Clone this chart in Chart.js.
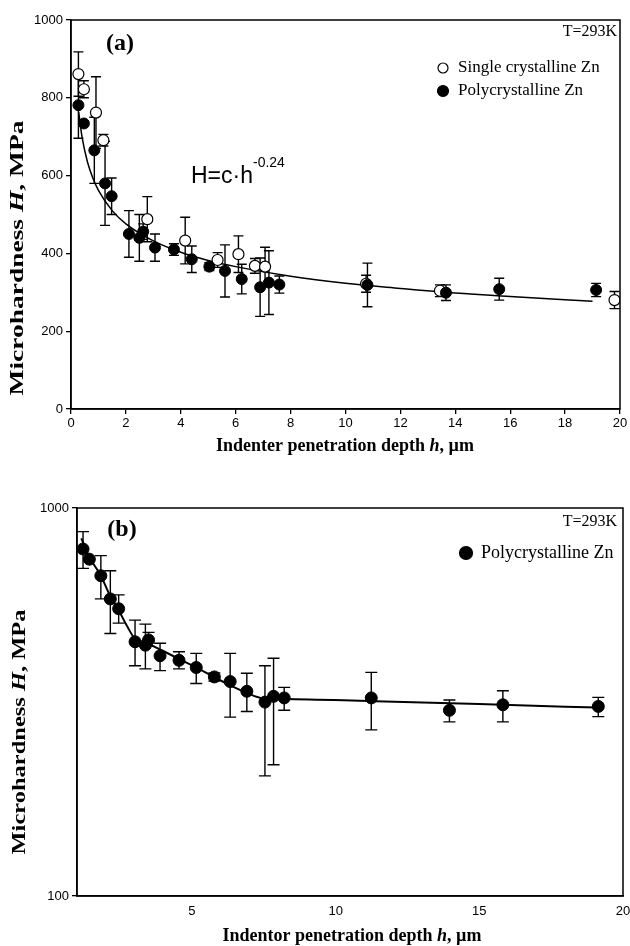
<!DOCTYPE html>
<html><head><meta charset="utf-8">
<script src="https://cdn.jsdelivr.net/npm/chart.js@4.4.1/dist/chart.umd.min.js"></script>
<style>
html,body{margin:0;padding:0;background:#fff;}
#wrap{position:relative;width:630px;height:946px;overflow:hidden;}
#ca{position:absolute;left:0;top:0;}
#cb{position:absolute;left:0;top:470px;}
</style></head><body>
<div id="wrap"><canvas id="ca" width="630" height="470"></canvas><canvas id="cb" width="630" height="476"></canvas></div>
<script>
// ---------- Panel (a) data ----------
const singleX   = [0.27, 0.47, 0.91, 1.18, 2.78, 4.16, 5.34, 6.10, 6.70, 7.07, 10.75, 13.44, 19.80];
const singleH   = [861, 822, 762, 691, 488, 433, 383, 398, 368, 366, 322, 304, 280];
const singleErr = [57, 22, 92, 15, 58, 60, 19, 47, 19, 50, 22, 15, 22];

const polyX   = [0.27, 0.47, 0.85, 1.24, 1.48, 2.11, 2.49, 2.63, 3.06, 3.75, 4.40, 5.04, 5.61, 6.22, 6.89, 7.21, 7.59, 10.80, 13.66, 15.60, 19.13];
const polyH   = [781, 734, 665, 580, 547, 450, 440, 456, 415, 410, 385, 366, 355, 334, 313, 325, 320, 319, 299, 308, 306];
const polyErr = [85, 0, 85, 108, 47, 60, 60, 20, 35, 15, 34, 10, 67, 38, 75, 82, 22, 56, 20, 28, 17];

// fitted curve H = c*h^-0.24
const fitAX = [0.28, 0.4, 0.6, 0.8, 1, 1.5, 2, 3, 4, 5, 6, 8, 10, 12, 14, 16, 19];
const fitAH = [763, 700, 635, 593, 562, 510, 476, 432, 403, 382, 366, 341, 323, 310, 298, 289, 277];

const xTicksA = [0, 2, 4, 6, 8, 10, 12, 14, 16, 18, 20];
const yTicksA = [0, 200, 400, 600, 800, 1000];

// ---------- Panel (b) data ----------
const polyBX  = [1.21, 1.43, 1.83, 2.16, 2.45, 3.02, 3.38, 3.49, 3.89, 4.55, 5.15, 5.78, 6.33, 6.91, 7.54, 7.84, 8.21, 11.24, 13.96, 15.82, 19.14];
const polyBH  = [784, 738, 669, 583, 550, 452, 443, 457, 416, 405, 388, 367, 357, 337, 316, 327, 324, 324, 301, 311, 308];
const polyBLo = [699, 738, 583, 475, 505, 392, 385, 440, 381, 385, 353, 358, 289, 299, 204, 218, 301, 268, 281, 281, 290];
const polyBHi = [869, 738, 754, 689, 597, 514, 502, 478, 448, 426, 422, 376, 422, 375, 392, 410, 345, 377, 320, 338, 325];

const fitBX = [1.15, 1.43, 1.83, 2.16, 2.45, 2.75, 3.0, 3.5, 4.0, 4.5, 5.15, 5.8, 6.3, 6.9, 7.5, 8.2, 11.2, 14.0, 15.8, 19.1];
const fitBH = [835, 748, 669, 592, 545, 495, 462, 446, 428, 410, 388, 366, 350, 334, 323, 322, 318, 314, 311, 306];

const xTicksB = [5, 10, 15, 20];
const yTicksB = [100, 1000];

// ---------- helpers ----------
const SERIF = "'Liberation Serif', 'Times New Roman', serif";
const SANS  = "'Liberation Sans', Arial, sans-serif";
Chart.defaults.font.family = SANS;
Chart.defaults.color = '#000';

const pts = (xs, ys) => xs.map((x, i) => ({x: x, y: ys[i]}));

function drawRich(ctx, segs, cx, cy, rot, targetLen) {
  ctx.save();
  let w = 0;
  segs.forEach(s => { ctx.font = s.f; w += ctx.measureText(s.t).width; });
  ctx.translate(cx, cy);
  if (rot) ctx.rotate(rot);
  if (targetLen) ctx.scale(targetLen / w, 1);
  ctx.textBaseline = 'middle'; ctx.textAlign = 'left'; ctx.fillStyle = '#000';
  let x = -w / 2;
  segs.forEach(s => { ctx.font = s.f; ctx.fillText(s.t, x, 0); x += ctx.measureText(s.t).width; });
  ctx.restore();
}

function makeErrPlugin(sets, cap) {
  return {
    id: 'errbars',
    beforeDatasetsDraw(chart) {
      const ctx = chart.ctx, xs = chart.scales.x, ys = chart.scales.y;
      ctx.save();
      ctx.strokeStyle = '#000'; ctx.lineWidth = 1.4;
      sets.forEach(s => {
        s.x.forEach((xv, i) => {
          const lo = s.lo[i], hi = s.hi[i];
          if (lo === hi) return;
          const px = xs.getPixelForValue(xv);
          const pl = ys.getPixelForValue(lo), ph = ys.getPixelForValue(hi);
          ctx.beginPath();
          ctx.moveTo(px, pl); ctx.lineTo(px, ph);
          ctx.moveTo(px - cap, pl); ctx.lineTo(px + cap, pl);
          ctx.moveTo(px - cap, ph); ctx.lineTo(px + cap, ph);
          ctx.stroke();
        });
      });
      ctx.restore();
    }
  };
}

function framePlugin(drawExtra) {
  return {
    id: 'frame',
    afterDraw(chart) {
      const ctx = chart.ctx, a = chart.chartArea;
      ctx.save();
      ctx.strokeStyle = '#000'; ctx.lineWidth = 1.5;
      ctx.strokeRect(a.left, a.top, a.right - a.left, a.bottom - a.top);
      ctx.restore();
      drawExtra(ctx);
    }
  };
}

function circle(ctx, x, y, r, filled) {
  ctx.save();
  ctx.beginPath(); ctx.arc(x, y, r, 0, Math.PI * 2);
  ctx.fillStyle = filled ? '#000' : '#fff'; ctx.fill();
  ctx.strokeStyle = '#000'; ctx.lineWidth = 1.2; ctx.stroke();
  ctx.restore();
}

const tickFont = {family: SANS, size: 13};
function axisOpts(extra) {
  return Object.assign({
    type: 'linear',
    ticks: {color: '#000', font: tickFont, autoSkip: false, maxRotation: 0, padding: 2, callback: v => String(v)},
    grid: {drawOnChartArea: false, drawTicks: true, tickLength: 5, color: '#000', lineWidth: 1.3},
    border: {display: true, color: '#000', width: 1.5}
  }, extra);
}

// ---------- Chart (a) ----------
const errA = makeErrPlugin([
  {x: singleX, lo: singleH.map((v, i) => v - singleErr[i]), hi: singleH.map((v, i) => v + singleErr[i])},
  {x: polyX,   lo: polyH.map((v, i) => v - polyErr[i]),     hi: polyH.map((v, i) => v + polyErr[i])}
], 5);

const decoA = framePlugin(ctx => {
  const B = 'bold 18px ' + SERIF, BI = 'bold italic 18px ' + SERIF;
  const B2 = 'bold 19px ' + SERIF, BI2 = 'bold italic 19px ' + SERIF;
  drawRich(ctx, [{t: 'Indenter penetration depth ', f: B}, {t: 'h', f: BI}, {t: ', µm', f: B}], 345, 446, 0, null);
  drawRich(ctx, [{t: 'Microhardness ', f: B2}, {t: 'H', f: BI2}, {t: ', MPa', f: B2}], 18, 258, -Math.PI / 2, 275);
  drawRich(ctx, [{t: '(a)', f: 'bold 24px ' + SERIF}], 120, 44, 0, null);
  ctx.save();
  ctx.fillStyle = '#000'; ctx.textBaseline = 'middle';
  ctx.font = '16px ' + SERIF; ctx.textAlign = 'right';
  ctx.fillText('T=293K', 617, 32);
  ctx.textAlign = 'left'; ctx.font = '17px ' + SERIF;
  ctx.fillText('Single crystalline Zn', 458, 68);
  ctx.fillText('Polycrystalline Zn', 458, 91);
  ctx.textBaseline = 'alphabetic';
  ctx.font = '23px ' + SANS;
  ctx.fillText('H=c·h', 191, 183);
  ctx.font = '14px ' + SANS;
  ctx.fillText('-0.24', 253, 167);
  ctx.restore();
  circle(ctx, 443, 68, 5, false);
  circle(ctx, 443, 91, 5.5, true);
});

new Chart(document.getElementById('ca'), {
  type: 'scatter',
  data: {datasets: [
    {label: 'Polycrystalline Zn', data: pts(polyX, polyH), pointRadius: 5.5, pointBackgroundColor: '#000', pointBorderColor: '#000', pointBorderWidth: 1, showLine: false},
    {label: 'Single crystalline Zn', data: pts(singleX, singleH), pointRadius: 5.5, pointBackgroundColor: '#fff', pointBorderColor: '#000', pointBorderWidth: 1.2, showLine: false},
    {label: 'fit', type: 'line', data: pts(fitAX, fitAH), pointRadius: 0, borderColor: '#000', borderWidth: 1.5, cubicInterpolationMode: 'monotone', fill: false}
  ]},
  options: {
    responsive: false, animation: false, devicePixelRatio: 1,
    layout: {padding: {top: 20, right: 10, left: 0, bottom: 0}, autoPadding: false},
    plugins: {legend: {display: false}, tooltip: {enabled: false}},
    scales: {
      x: axisOpts({min: 0, max: 20,
        afterBuildTicks(s) { s.ticks = xTicksA.map(v => ({value: v})); },
        afterFit(s) { s.height = 61; s.paddingLeft = 0; s.paddingRight = 0; }}),
      y: axisOpts({min: 0, max: 1000,
        ticks: {color: '#000', font: tickFont, autoSkip: false, padding: 3, callback: v => String(v)},
        afterBuildTicks(s) { s.ticks = yTicksA.map(v => ({value: v})); },
        afterFit(s) { s.width = 71; s.paddingTop = 0; s.paddingBottom = 0; }})
    }
  },
  plugins: [errA, decoA]
});

// ---------- Chart (b) ----------
const errB = makeErrPlugin([{x: polyBX, lo: polyBLo, hi: polyBHi}], 6);

const decoB = framePlugin(ctx => {
  const B = 'bold 18px ' + SERIF, BI = 'bold italic 18px ' + SERIF;
  const B2 = 'bold 19px ' + SERIF, BI2 = 'bold italic 19px ' + SERIF;
  drawRich(ctx, [{t: 'Indentor penetration depth ', f: B}, {t: 'h', f: BI}, {t: ', µm', f: B}], 352, 466, 0, null);
  drawRich(ctx, [{t: 'Microhardness ', f: B2}, {t: 'H', f: BI2}, {t: ', MPa', f: B2}], 20, 262, -Math.PI / 2, 245);
  drawRich(ctx, [{t: '(b)', f: 'bold 24px ' + SERIF}], 122, 60, 0, null);
  ctx.save();
  ctx.fillStyle = '#000'; ctx.textBaseline = 'middle';
  ctx.font = '16px ' + SERIF; ctx.textAlign = 'right';
  ctx.fillText('T=293K', 617, 52);
  ctx.textAlign = 'left'; ctx.font = '18px ' + SERIF;
  ctx.fillText('Polycrystalline Zn', 481, 83);
  ctx.restore();
  circle(ctx, 466, 83, 6.5, true);
});

new Chart(document.getElementById('cb'), {
  type: 'scatter',
  data: {datasets: [
    {label: 'Polycrystalline Zn', data: pts(polyBX, polyBH), pointRadius: 6, pointBackgroundColor: '#000', pointBorderColor: '#000', pointBorderWidth: 1, showLine: false},
    {label: 'fit', type: 'line', data: pts(fitBX, fitBH), pointRadius: 0, borderColor: '#000', borderWidth: 2, cubicInterpolationMode: 'monotone', fill: false}
  ]},
  options: {
    responsive: false, animation: false, devicePixelRatio: 1,
    layout: {padding: {top: 38, right: 7, left: 0, bottom: 0}, autoPadding: false},
    plugins: {legend: {display: false}, tooltip: {enabled: false}},
    scales: {
      x: axisOpts({min: 1, max: 20,
        ticks: {color: '#000', font: tickFont, autoSkip: false, maxRotation: 0, padding: 8, callback: v => String(v)},
        grid: {display: false, drawTicks: false},
        afterBuildTicks(s) { s.ticks = xTicksB.map(v => ({value: v})); },
        afterFit(s) { s.height = 50; s.paddingLeft = 0; s.paddingRight = 0; }}),
      y: axisOpts({type: 'logarithmic', min: 100, max: 1000,
        ticks: {color: '#000', font: tickFont, autoSkip: false, padding: 3, callback: v => String(v)},
        afterBuildTicks(s) { s.ticks = yTicksB.map(v => ({value: v})); },
        afterFit(s) { s.width = 77; s.paddingTop = 0; s.paddingBottom = 0; }})
    }
  },
  plugins: [errB, decoB]
});
</script>
</body></html>
